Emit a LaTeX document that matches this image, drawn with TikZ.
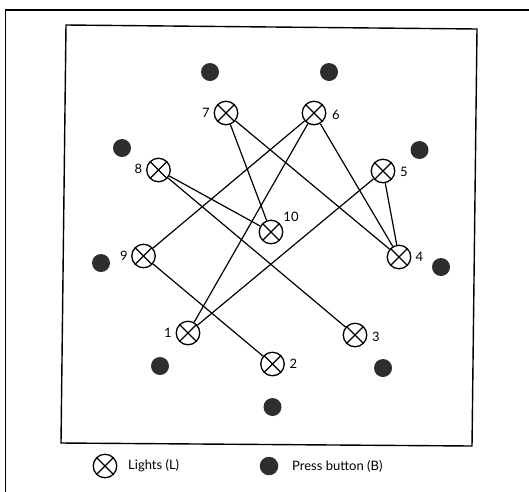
\documentclass[tikz,border=0pt]{standalone}
\usepackage{fontspec}
\setmainfont{Lato}
\begin{document}
\begin{tikzpicture}[x=1pt,y=-1pt,
  lamp/.style={circle,draw,line width=1.3pt,minimum size=23.5pt,inner sep=0pt,
    path picture={
      \draw[line width=1.3pt] (path picture bounding box.north west)--(path picture bounding box.south east)
        (path picture bounding box.north east)--(path picture bounding box.south west);}},
  button/.style={circle,fill=black!82,minimum size=18pt,inner sep=0pt},
  num/.style={font=\fontsize{13}{15}\selectfont,inner sep=0pt},
  legendtext/.style={font=\fontsize{13}{15}\selectfont,inner sep=0pt,anchor=west},
  wire/.style={line width=1.2pt}]
\useasboundingbox (0,0) rectangle (529,491);

% outer frame (continues past the page edge)
\draw[line width=1.5pt] (5.5,500) -- (5.5,10) -- (540,10);
% panel outline
\draw[line width=1.4pt] (66,25) -- (477,29) -- (472,446) -- (61,443) -- cycle;

% lights
\node[lamp] (L7)  at (226,113) {};
\node[lamp] (L6)  at (314,113) {};
\node[lamp] (L8)  at (158.5,170) {};
\node[lamp] (L5)  at (383,171) {};
\node[lamp] (L10) at (271,232) {};
\node[lamp] (L9)  at (143.5,256) {};
\node[lamp] (L4)  at (399,257) {};
\node[lamp] (L1)  at (188,333) {};
\node[lamp] (L3)  at (355,335) {};
\node[lamp] (L2)  at (272.5,364) {};

% light numbers
\node[num] (n7)  at (206,113) {7};
\node[num] (n6)  at (336,115) {6};
\node[num] (n8)  at (138.5,169) {8};
\node[num] (n5)  at (404,172) {5};
\node[num] (n10) at (291,217) {10};
\node[num] (n9)  at (124,256) {9};
\node[num] (n4)  at (419.5,257) {4};
\node[num] (n1)  at (168,333) {1};
\node[num] (n3)  at (376,337) {3};
\node[num] (n2)  at (293.5,364) {2};

% press buttons
\node[button] (B1) at (210,72) {};
\node[button] (B2) at (329,72) {};
\node[button] (B3) at (122,148) {};
\node[button] (B4) at (419.5,150) {};
\node[button] (B5) at (101,263) {};
\node[button] (B6) at (441,267) {};
\node[button] (B7) at (160,366) {};
\node[button] (B8) at (383,368) {};
\node[button] (B9) at (272.5,407) {};

% wiring between lights
\draw[wire] (L7) -- (L10);
\draw[wire] (L7) -- (L4);
\draw[wire] (L6) -- (L9);
\draw[wire] (L6) -- (L1);
\draw[wire] (L6) -- (L4);
\draw[wire] (L8) -- (L10);
\draw[wire] (L8) -- (L3);
\draw[wire] (L5) -- (L1);
\draw[wire] (L5) -- (L4);
\draw[wire] (L9) -- (L2);

% legend
\node[lamp] (keyL) at (105,466) {};
\node[legendtext] (keyLt) at (128,466) {Lights (L)};
\node[button,minimum size=18.5pt] (keyB) at (269,466) {};
\node[legendtext] (keyBt) at (292,466) {Press button (B)};
\end{tikzpicture}
\end{document}
